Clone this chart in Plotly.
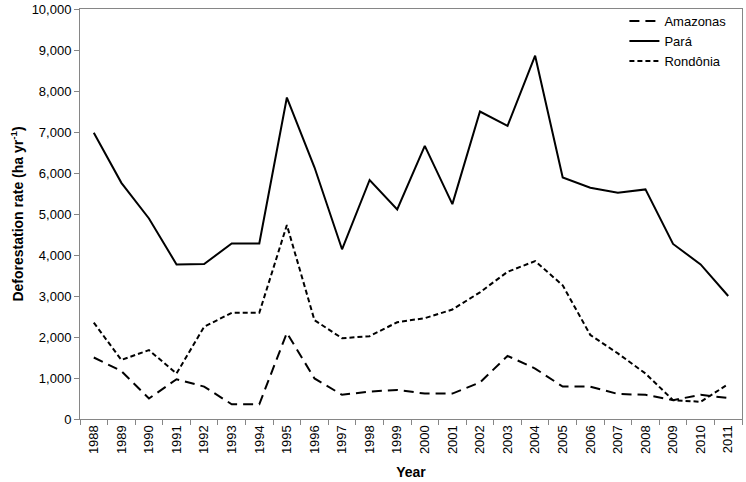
import plotly.graph_objects as go

years = [str(y) for y in range(1988, 2012)]

amazonas = [1500, 1170, 500, 970, 790, 360, 360, 2100, 990, 590, 670, 710,
            620, 620, 890, 1540, 1230, 790, 790, 610, 590, 460, 590, 510]
para = [6980, 5760, 4890, 3770, 3780, 4280, 4280, 7840, 6140, 4140, 5830, 5110,
        6660, 5240, 7500, 7150, 8860, 5890, 5640, 5520, 5600, 4270, 3770, 3000]
rondonia = [2350, 1440, 1680, 1110, 2250, 2590, 2590, 4730, 2410, 1970, 2020, 2360,
            2460, 2670, 3090, 3590, 3850, 3260, 2050, 1600, 1110, 460, 420, 850]

font = "Liberation Sans, Arial, sans-serif"

fig = go.Figure()
fig.add_trace(go.Scatter(x=years, y=amazonas, name="Amazonas", mode="lines",
                         line=dict(color="black", width=2, dash="10px,6px")))
fig.add_trace(go.Scatter(x=years, y=para, name="Pará", mode="lines",
                         line=dict(color="black", width=2)))
fig.add_trace(go.Scatter(x=years, y=rondonia, name="Rondônia", mode="lines",
                         line=dict(color="black", width=2, dash="5px,3px")))

fig.update_layout(
    width=746, height=482,
    margin=dict(l=80, r=4, t=9, b=63),
    paper_bgcolor="white", plot_bgcolor="white",
    font=dict(family=font, size=13, color="black"),
    showlegend=True,
    legend=dict(x=0.984, xanchor="right", y=1.007, yanchor="top",
                bgcolor="rgba(0,0,0,0)", font=dict(size=13),
                tracegroupgap=0, itemwidth=30),
    xaxis=dict(
        type="category", range=[-0.5, 23.5], automargin=False,
        tickangle=-90, tickson="boundaries", ticks="outside", ticklen=5,
        tickcolor="#868686", showline=True, linecolor="#868686", linewidth=1,
        mirror=True, showgrid=False, tickfont=dict(size=13),
        title=dict(text="<b>Year</b>", standoff=14,
                   font=dict(family="Liberation Sans Narrow, Arial Narrow, " + font, size=14)),
    ),
    yaxis=dict(
        range=[0, 10000], dtick=1000, tickformat=",d", automargin=False,
        ticks="outside", ticklen=5, tickcolor="#868686",
        showline=True, linecolor="#868686", linewidth=1, mirror=True,
        showgrid=False, zeroline=False, tickfont=dict(size=13),
        title=dict(text="<b>Deforestation rate (ha yr<sup>-1</sup>)</b>", standoff=4,
                   font=dict(size=14)),
    ),
)

# drop the browser's default page margin so the figure sits at the window origin
fig.write_html("out.html", config={"displayModeBar": False},
               post_script="document.body.style.margin='0';")
